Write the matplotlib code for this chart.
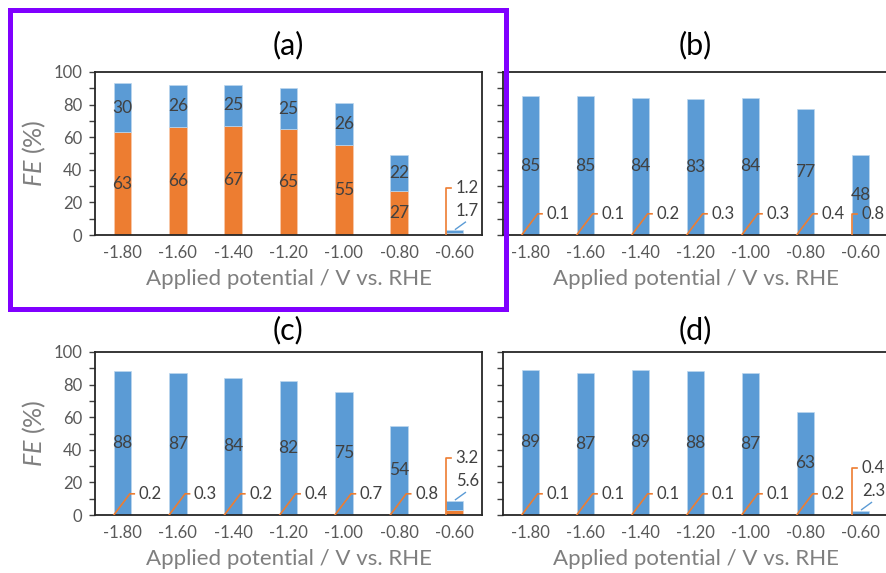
import matplotlib
matplotlib.use("Agg")
import matplotlib.pyplot as plt
from matplotlib.patches import Rectangle

plt.rcParams['font.family'] = ['Lato', 'DejaVu Sans']
plt.rcParams['mathtext.fontset'] = 'custom'
plt.rcParams['mathtext.it'] = 'Lato:italic'
plt.rcParams['mathtext.rm'] = 'Lato'

# datos
potenciales = ["-1.80", "-1.60", "-1.40", "-1.20", "-1.00", "-0.80", "-0.60"]
paneles = ["(a)", "(b)", "(c)", "(d)"]

naranja_a = [63, 66, 67, 65, 55, 27, 1.2]
azul_a = [30, 26, 25, 25, 26, 22, 1.7]
naranja_b = [0.1, 0.1, 0.2, 0.3, 0.3, 0.4, 0.8]
azul_b = [85, 85, 84, 83, 84, 77, 48]
naranja_c = [0.2, 0.3, 0.2, 0.4, 0.7, 0.8, 3.2]
azul_c = [88, 87, 84, 82, 75, 54, 5.6]
naranja_d = [0.1, 0.1, 0.1, 0.1, 0.1, 0.2, 0.4]
azul_d = [89, 87, 89, 88, 87, 63, 2.3]

AZUL = '#5B9BD5'
NARANJA = '#ED7D31'
GRIS_TXT = '#404040'
GRIS_TICK = '#595959'
GRIS_LAB = '#7F7F7F'

W, H = 886, 573
fig = plt.figure(figsize=(W / 100, H / 100), dpi=100)


def caja(x0, y0, x1, y1):
    # coordenadas en pixeles (origen arriba-izquierda)
    return [x0 / W, (H - y1) / H, (x1 - x0) / W, (y1 - y0) / H]


posiciones = [caja(95, 72, 482, 235), caja(503, 72, 888, 235),
              caja(95, 352, 482, 515), caja(503, 352, 888, 515)]
titulo_y = [1.166, 1.166, 1.135, 1.135]
datos = [(naranja_a, azul_a), (naranja_b, azul_b), (naranja_c, azul_c), (naranja_d, azul_d)]


def dibuja_panel(ax, naranja, azul, izquierda):
    x = list(range(len(potenciales)))
    ax.bar(x, naranja, width=0.32, color=NARANJA, edgecolor='#F8CBAD', linewidth=0.5, zorder=2)
    ax.bar(x, azul, width=0.32, bottom=naranja, color=AZUL, edgecolor='#BDD7EE', linewidth=0.5, zorder=2)
    ax.set_xlim(-0.5, len(x) - 0.5)
    ax.set_ylim(0, 100)
    ax.set_xticks(x)
    ax.set_xticklabels(potenciales)
    ax.set_yticks(range(0, 101, 20))
    ax.set_yticks(range(10, 100, 20), minor=True)
    ax.tick_params(axis='x', length=0, pad=7, labelsize=12, labelcolor=GRIS_TICK)
    ax.tick_params(axis='y', which='both', direction='out', length=4, width=1,
                   color='#404040', labelsize=12, labelcolor=GRIS_TICK, pad=5)
    if not izquierda:
        ax.tick_params(axis='y', labelleft=False)
        ax.spines['right'].set_visible(False)
    for s in ax.spines.values():
        s.set_color('#262626')
        s.set_linewidth(1.3)
    ax.set_xlabel("Applied potential / V vs. RHE", fontsize=16, color=GRIS_LAB, labelpad=6)
    if izquierda:
        ax.set_ylabel(r"$\it{FE}$ (%)", fontsize=18, color=GRIS_LAB)
        ax.yaxis.set_label_coords(-47 / 387, 0.5)

    ultimo = len(x) - 1
    for i, (o, b) in enumerate(zip(naranja, azul)):
        total = o + b
        # etiquetas dentro de las barras
        if o >= 10:
            ax.text(i, o / 2, f"{o:g}", ha='center', va='center', fontsize=12.5, color=GRIS_TXT, zorder=3)
        if b >= 10:
            ax.text(i, o + b / 2, f"{b:g}", ha='center', va='center', fontsize=12.5, color=GRIS_TXT, zorder=3)
        # etiquetas con linea guia
        if o < 10:
            if i == ultimo:
                yl = total + 26 if b < 10 else 13
                ax.plot([i - 0.16, i - 0.16, i - 0.06], [0, yl, yl], color=NARANJA, lw=1.2, zorder=3)
                ax.text(i + 0.02, yl, f"{o:g}", ha='left', va='center', fontsize=12, color=GRIS_TXT, zorder=3)
            else:
                yl = 13
                ax.plot([i - 0.16, i + 0.13, i + 0.21], [0, yl, yl], color=NARANJA, lw=1.2, zorder=3)
                ax.text(i + 0.29, yl, f"{o:g}", ha='left', va='center', fontsize=12, color=GRIS_TXT, zorder=3)
        if b < 10:
            yl = total + 12
            ax.plot([i + 0.02, i + 0.2], [total + 0.6, total + 5], color=AZUL, lw=1.0, zorder=3)
            ax.text(i + 0.03, yl, f"{b:g}", ha='left', va='center', fontsize=12, color=GRIS_TXT, zorder=3)


for k, (pos, (nar, az)) in enumerate(zip(posiciones, datos)):
    ax = fig.add_axes(pos)
    dibuja_panel(ax, nar, az, izquierda=(k % 2 == 0))
    ax.text(0.5, titulo_y[k], paneles[k], transform=ax.transAxes, ha='center', va='center',
            fontsize=22, color='black')

# recuadro morado del panel (a)
fig.patches.append(Rectangle((9.8 / W, 1 - 309.5 / H), (505.5 - 9.8) / W, (309.5 - 9.8) / H,
                             transform=fig.transFigure, fill=False, edgecolor='#8000FF',
                             linewidth=3.6, zorder=10))

fig.savefig("out.png", dpi=100)
